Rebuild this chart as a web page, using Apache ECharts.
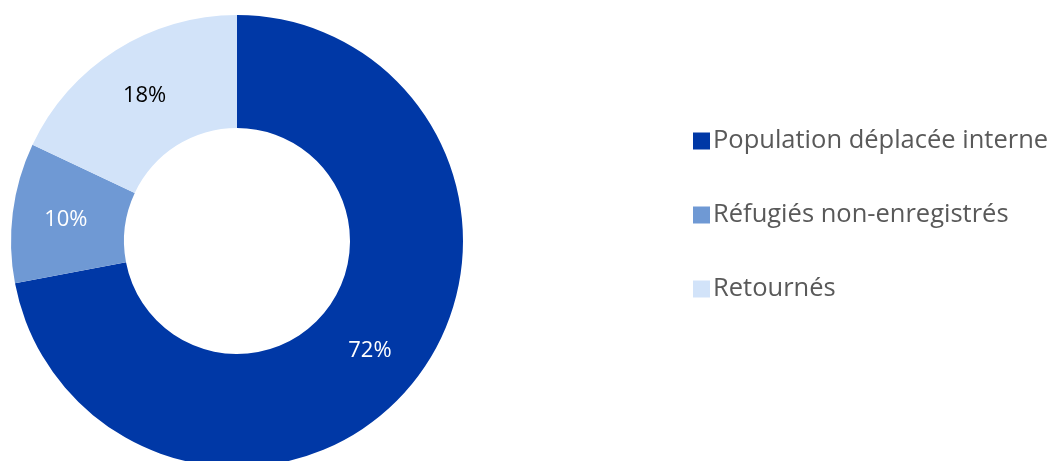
<!DOCTYPE html>
<html>
<head>
<meta charset="utf-8">
<script src="https://cdn.jsdelivr.net/npm/echarts@6/dist/echarts.min.js"></script>
<style>
html,body{margin:0;padding:0;background:#fff;}
#chart{width:1051px;height:461px;}
</style>
</head>
<body>
<div id="chart"></div>
<script>
const categories = ['Population déplacée interne', 'Réfugiés non-enregistrés', 'Retournés'];
const values = [72, 10, 18];
const colors = ['#0038A6', '#6F99D4', '#D2E3F9'];
const labelColors = ['#ffffff', '#ffffff', '#000000'];

const chart = echarts.init(document.getElementById('chart'));
chart.setOption({
  animation: false,
  legend: {
    orient: 'vertical',
    left: 688,
    top: 121,
    itemWidth: 17,
    itemHeight: 17,
    itemGap: 44,
    icon: 'rect',
    data: categories,
    textStyle: { fontFamily: 'Open Sans', fontSize: 25.5, color: '#595959', lineHeight: 30, padding: [0,0,0,-2] }
  },
  series: [{
    type: 'pie',
    center: [237, 241],
    radius: [113, 226],
    startAngle: 90,
    clockwise: true,
    avoidLabelOverlap: false,
    label: {
      show: true,
      position: 'inside',
      formatter: '{c}%',
      fontFamily: 'Open Sans',
      fontSize: 22
    },
    labelLine: { show: false },
    emphasis: { disabled: true },
    data: categories.map((c, i) => ({
      name: c,
      value: values[i],
      itemStyle: { color: colors[i] },
      label: { color: labelColors[i] }
    }))
  }]
});
</script>
</body>
</html>
